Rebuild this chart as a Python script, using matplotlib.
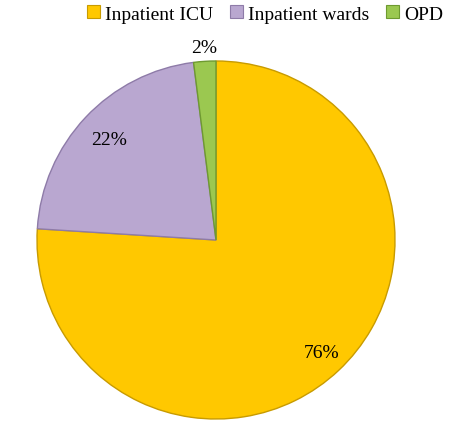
import numpy as np
import matplotlib.pyplot as plt
from matplotlib.patches import Patch

# data
labels = ['Inpatient ICU', 'Inpatient wards', 'OPD']
shares = [76, 22, 2]
colors = ['#FFC800', '#B9A7D0', '#9BC850']
edges = ['#C89B00', '#8E7BA8', '#6E9A30']

plt.rcParams['font.family'] = ['Liberation Serif', 'DejaVu Serif']

fig = plt.figure(figsize=(4.67, 4.31), dpi=100)
# pie centre ~ (216, 241) px, radius ~ 179 px
r_px = 179
ax = fig.add_axes([(216 - r_px) / 467, (431 - 241 - r_px) / 431,
                   2 * r_px / 467, 2 * r_px / 431])

wedges, _ = ax.pie(shares, colors=colors, startangle=90, counterclock=False,
                   radius=1.0, wedgeprops=dict(linewidth=1.0))
for w, e in zip(wedges, edges):
    w.set_edgecolor(e)

# percent labels
pos = [0.86, 0.82, 1.08]
ang = 90.0
for s, p in zip(shares, pos):
    mid = ang - s * 360 / 100 / 2
    ang -= s * 360 / 100
    t = np.deg2rad(mid)
    ax.text(p * np.cos(t), p * np.sin(t), f'{s}%', ha='center', va='center',
            fontsize=14)

ax.set_xlim(-1, 1)
ax.set_ylim(-1, 1)
ax.set_aspect('equal')
ax.axis('off')

handles = [Patch(facecolor=c, edgecolor=e, linewidth=0.8) for c, e in zip(colors, edges)]
fig.legend(handles, labels, loc='center', bbox_to_anchor=(265 / 467, 1 - 15 / 431),
           ncol=3, frameon=False, fontsize=14, handlelength=0.65, handleheight=0.65,
           handletextpad=0.25, columnspacing=0.9)

fig.savefig('out.png', dpi=100)
